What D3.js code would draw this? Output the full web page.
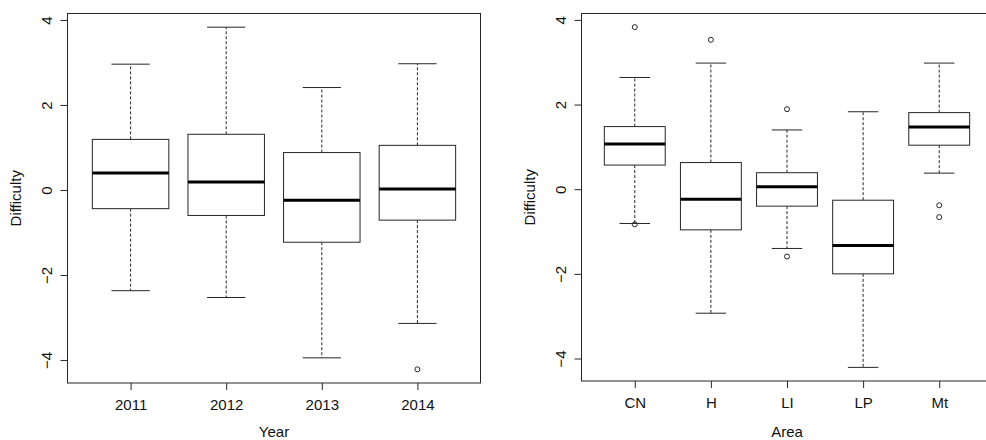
<!DOCTYPE html>
<html>
<head>
<meta charset="utf-8">
<script src="https://cdn.jsdelivr.net/npm/d3@7"></script>
<style>
  body { margin: 0; background: #fff; }
  svg { display: block; font-family: "Liberation Sans", Arial, sans-serif; }
</style>
</head>
<body>
<svg id="chart" width="986" height="440"></svg>
<script>
// five-number summaries: [low whisker, Q1, median, Q3, high whisker]
var years = ["2011", "2012", "2013", "2014"];
var yearStats = [
  [-2.37, -0.44, 0.40, 1.19, 2.96],
  [-2.53, -0.60, 0.19, 1.31, 3.83],
  [-3.95, -1.23, -0.24, 0.88, 2.41],
  [-3.14, -0.71, 0.02, 1.05, 2.97]
];
var yearOutliers = [[], [], [], [-4.22]];

var areas = ["CN", "H", "LI", "LP", "Mt"];
var areaStats = [
  [-0.81, 0.57, 1.07, 1.48, 2.64],
  [-2.93, -0.96, -0.24, 0.63, 2.98],
  [-1.40, -0.40, 0.06, 0.39, 1.40],
  [-4.21, -2.00, -1.33, -0.26, 1.83],
  [0.38, 1.04, 1.47, 1.81, 2.98]
];
var areaOutliers = [[3.83, -0.83], [3.53], [1.89, -1.59], [], [-0.38, -0.66]];

var yTicks = [-4, -2, 0, 2, 4];

var svg = d3.select("#chart");
var lineCol = "#262626";

function boxPanel(opt) {
  var n = opt.cats.length;
  var pad = 0.04 * n;
  var x = d3.scaleLinear()
    .domain([0.5 - pad, n + 0.5 + pad])
    .range([opt.left, opt.right]);

  var all = [];
  opt.stats.forEach(function(s, i) { all = all.concat(s, opt.outliers[i]); });
  var lo = d3.min(all), hi = d3.max(all), ext = (hi - lo) * 0.04;
  var y = d3.scaleLinear()
    .domain([lo - ext, hi + ext])
    .range([opt.bottom, opt.top]);

  var g = svg.append("g");
  var boxW = (x(2) - x(1)) * 0.8;

  // y axis
  var ya = g.append("g")
    .attr("transform", "translate(" + opt.left + ",0)")
    .call(d3.axisLeft(y).tickValues(yTicks).tickSize(7).tickFormat(d3.format("d")))
    .attr("font-family", null).attr("font-size", 15);
  ya.select(".domain").remove();
  ya.selectAll("line").attr("stroke", lineCol);
  ya.selectAll("text")
    .attr("x", 0).attr("dy", 0)
    .attr("transform", "translate(-16,0) rotate(-90)")
    .attr("text-anchor", "middle")
    .attr("fill", "#111");

  // x axis
  var xa = g.append("g")
    .attr("transform", "translate(0," + opt.bottom + ")")
    .call(d3.axisBottom(x).tickValues(d3.range(1, n + 1)).tickSize(7)
      .tickFormat(function(d) { return opt.cats[d - 1]; }))
    .attr("font-family", null).attr("font-size", 15);
  xa.select(".domain").remove();
  xa.selectAll("line").attr("stroke", lineCol);
  xa.selectAll("text")
    .attr("y", 27).attr("dy", 0)
    .attr("fill", "#111");

  var boxes = g.selectAll(".bx")
    .data(opt.stats)
    .enter().append("g")
    .attr("class", "bx");

  // whiskers
  boxes.append("line")
    .attr("x1", function(d, i) { return x(i + 1); })
    .attr("x2", function(d, i) { return x(i + 1); })
    .attr("y1", function(d) { return y(d[3]); })
    .attr("y2", function(d) { return y(d[4]); })
    .attr("stroke", lineCol).attr("stroke-dasharray", "3,2");
  boxes.append("line")
    .attr("x1", function(d, i) { return x(i + 1); })
    .attr("x2", function(d, i) { return x(i + 1); })
    .attr("y1", function(d) { return y(d[1]); })
    .attr("y2", function(d) { return y(d[0]); })
    .attr("stroke", lineCol).attr("stroke-dasharray", "3,2");

  // staples
  [0, 4].forEach(function(k) {
    boxes.append("line")
      .attr("x1", function(d, i) { return x(i + 1) - boxW / 4; })
      .attr("x2", function(d, i) { return x(i + 1) + boxW / 4; })
      .attr("y1", function(d) { return y(d[k]); })
      .attr("y2", function(d) { return y(d[k]); })
      .attr("stroke", lineCol);
  });

  boxes.append("rect")
    .attr("x", function(d, i) { return x(i + 1) - boxW / 2; })
    .attr("width", boxW)
    .attr("y", function(d) { return y(d[3]); })
    .attr("height", function(d) { return y(d[1]) - y(d[3]); })
    .attr("fill", "#fff")
    .attr("stroke", lineCol);

  boxes.append("line")
    .attr("x1", function(d, i) { return x(i + 1) - boxW / 2; })
    .attr("x2", function(d, i) { return x(i + 1) + boxW / 2; })
    .attr("y1", function(d) { return y(d[2]); })
    .attr("y2", function(d) { return y(d[2]); })
    .attr("stroke", "#000").attr("stroke-width", 3);

  // outliers
  opt.outliers.forEach(function(o, i) {
    g.selectAll(null)
      .data(o)
      .enter().append("circle")
      .attr("cx", x(i + 1))
      .attr("cy", function(d) { return y(d); })
      .attr("r", 2.5)
      .attr("fill", "none")
      .attr("stroke", lineCol);
  });

  // frame
  g.append("rect")
    .attr("x", opt.left).attr("y", opt.top)
    .attr("width", opt.right - opt.left)
    .attr("height", opt.bottom - opt.top)
    .attr("fill", "none")
    .attr("stroke", lineCol);

  g.append("text")
    .attr("transform", "translate(" + (opt.left - 46.5) + "," + ((opt.top + opt.bottom) / 2) + ") rotate(-90)")
    .attr("text-anchor", "middle")
    .attr("font-size", 15)
    .attr("fill", "#111")
    .text("Difficulty");

  g.append("text")
    .attr("x", (opt.left + opt.right) / 2)
    .attr("y", 436.5)
    .attr("text-anchor", "middle")
    .attr("font-size", 15)
    .attr("fill", "#111")
    .text(opt.xTitle);
}

boxPanel({ cats: years, stats: yearStats, outliers: yearOutliers,
  left: 67.5, right: 480.5, top: 13.5, bottom: 383, xTitle: "Year" });
boxPanel({ cats: areas, stats: areaStats, outliers: areaOutliers,
  left: 581.5, right: 992.5, top: 13.5, bottom: 381, xTitle: "Area" });
</script>
</body>
</html>
